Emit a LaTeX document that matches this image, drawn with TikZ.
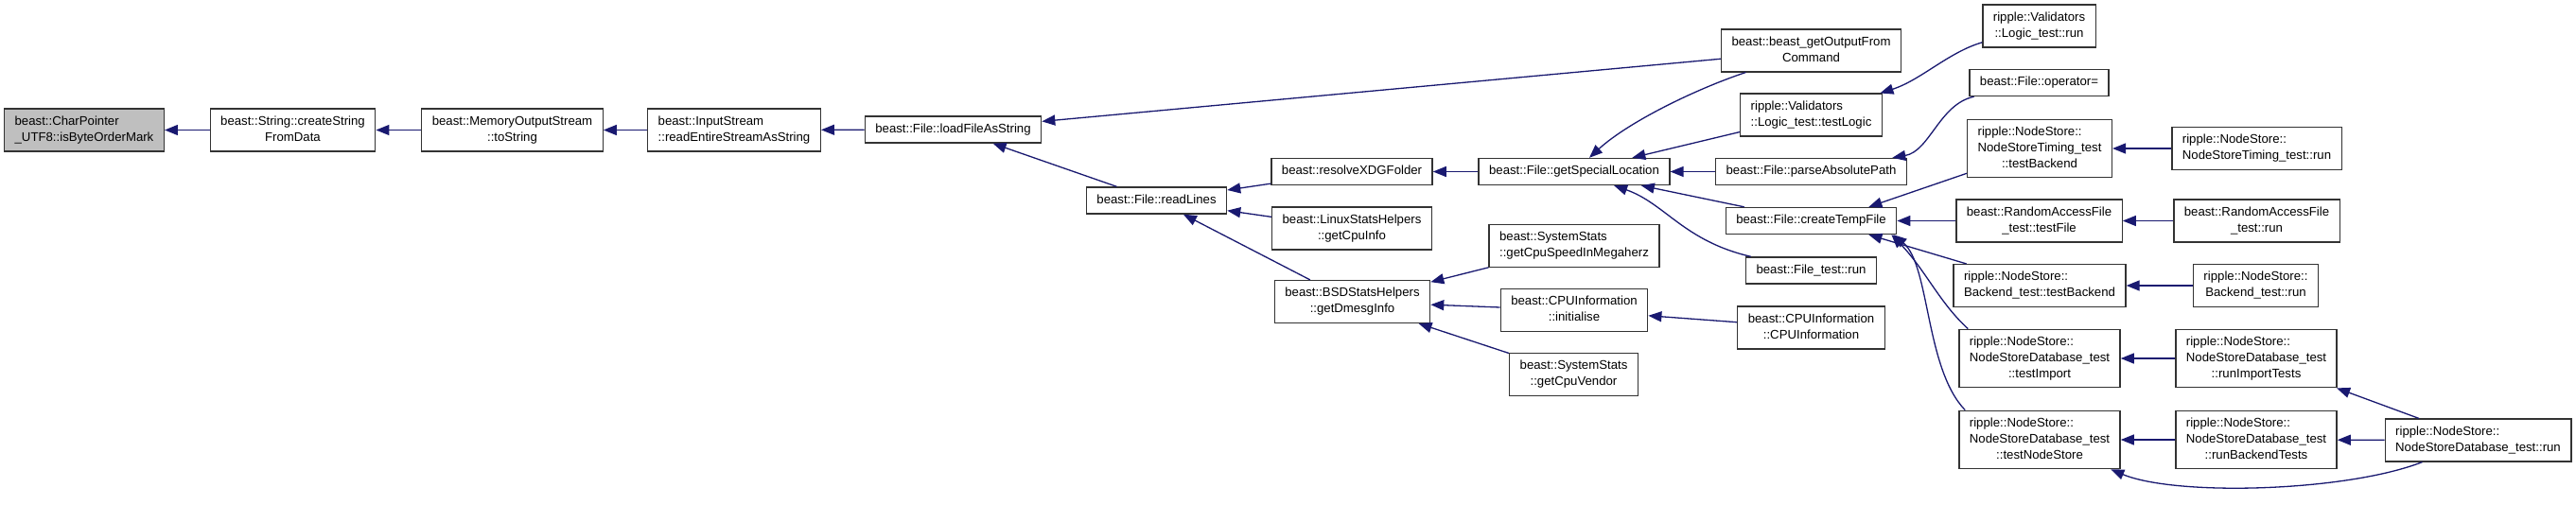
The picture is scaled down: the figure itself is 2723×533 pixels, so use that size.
\documentclass[tikz,border=0pt]{standalone}
\usepackage{fontspec}
\setmainfont{Liberation Sans}
\usetikzlibrary{arrows.meta}
\definecolor{edgec}{HTML}{191970}
\definecolor{linec}{HTML}{333333}
\definecolor{curc}{HTML}{BFBFBF}
\newcommand{\fnbox}[1]{\begin{tabular}{@{}c@{}}#1\end{tabular}}
\newcommand{\lftln}[1]{\multicolumn{1}{@{}l@{}}{#1}\\}
\tikzset{
  ar/.style={-{Triangle[length=14pt,width=11pt]},line width=1.3pt,edgec},
  fn/.style={draw=linec,line width=1.3pt,fill=white,inner xsep=11pt,inner ysep=5.7pt,font=\fontsize{13.2}{16.7}\selectfont},
  cur/.style={fn,fill=curc}
}
\begin{document}
\begin{tikzpicture}[x=1pt,y=-1pt]
\useasboundingbox (0,0) rectangle (2723,533);
\node[cur] (cp) at (89,137.5) {\fnbox{\lftln{beast::CharPointer}\_UTF8::isByteOrderMark}};
\node[fn] (cs) at (309.5,137.5) {\fnbox{\lftln{beast::String::createString}FromData}};
\node[fn] (mos) at (541.5,137.5) {\fnbox{\lftln{beast::MemoryOutputStream}::toString}};
\node[fn] (is) at (776,137.5) {\fnbox{\lftln{beast::InputStream}::readEntireStreamAsString}};
\node[fn] (lfs) at (1007.5,137) {\fnbox{beast::File::loadFileAsString}};
\node[fn] (rl) at (1222.5,212) {\fnbox{beast::File::readLines}};
\node[fn] (xdg) at (1429,181.5) {\fnbox{beast::resolveXDGFolder}};
\node[fn] (lin) at (1429,241.5) {\fnbox{\lftln{beast::LinuxStatsHelpers}::getCpuInfo}};
\node[fn] (bsd) at (1429.5,319) {\fnbox{\lftln{beast::BSDStatsHelpers}::getDmesgInfo}};
\node[fn] (gsl) at (1664,181.5) {\fnbox{beast::File::getSpecialLocation}};
\node[fn] (spd) at (1664,260) {\fnbox{\lftln{beast::SystemStats}::getCpuSpeedInMegaherz}};
\node[fn] (ini) at (1664,328) {\fnbox{\lftln{beast::CPUInformation}::initialise}};
\node[fn] (ven) at (1663.5,396) {\fnbox{\lftln{beast::SystemStats}::getCpuVendor}};
\node[fn] (cmd) at (1914.5,53.5) {\fnbox{\lftln{beast::beast\_getOutputFrom}Command}};
\node[fn] (tlg) at (1914.5,121.5) {\fnbox{\lftln{ripple::Validators}::Logic\_test::testLogic}};
\node[fn] (pap) at (1914.5,181.5) {\fnbox{beast::File::parseAbsolutePath}};
\node[fn] (ctf) at (1914.5,233.5) {\fnbox{beast::File::createTempFile}};
\node[fn] (ftr) at (1914.5,286) {\fnbox{beast::File\_test::run}};
\node[fn] (cpu) at (1914.5,346.5) {\fnbox{\lftln{beast::CPUInformation}::CPUInformation}};
\node[fn] (ltr) at (2155.5,27.5) {\fnbox{\lftln{ripple::Validators}::Logic\_test::run}};
\node[fn] (opr) at (2155.5,87.5) {\fnbox{beast::File::operator=}};
\node[fn] (nsb) at (2156,157) {\fnbox{\lftln{ripple::NodeStore::}\lftln{NodeStoreTiming\_test}::testBackend}};
\node[fn] (raf) at (2155.5,233.5) {\fnbox{\lftln{beast::RandomAccessFile}\_test::testFile}};
\node[fn] (bet) at (2156,302) {\fnbox{\lftln{ripple::NodeStore::}Backend\_test::testBackend}};
\node[fn] (tim) at (2156,379) {\fnbox{\lftln{ripple::NodeStore::}\lftln{NodeStoreDatabase\_test}::testImport}};
\node[fn] (tns) at (2156,465) {\fnbox{\lftln{ripple::NodeStore::}\lftln{NodeStoreDatabase\_test}::testNodeStore}};
\node[fn] (nsr) at (2385.5,157) {\fnbox{\lftln{ripple::NodeStore::}NodeStoreTiming\_test::run}};
\node[fn] (rafr) at (2385.5,233.5) {\fnbox{\lftln{beast::RandomAccessFile}\_test::run}};
\node[fn] (ber) at (2384.5,302) {\fnbox{\lftln{ripple::NodeStore::}Backend\_test::run}};
\node[fn] (rit) at (2385,379) {\fnbox{\lftln{ripple::NodeStore::}\lftln{NodeStoreDatabase\_test}::runImportTests}};
\node[fn] (rbt) at (2385,465) {\fnbox{\lftln{ripple::NodeStore::}\lftln{NodeStoreDatabase\_test}::runBackendTests}};
\node[fn] (nsd) at (2619.5,465.5) {\fnbox{\lftln{ripple::NodeStore::}NodeStoreDatabase\_test::run}};
\draw[ar] (cs) -- (cp);
\draw[ar] (mos) -- (cs);
\draw[ar] (is) -- (mos);
\draw[ar] (lfs) -- (is);
\draw[ar] (cmd) -- (lfs);
\draw[ar] (rl) -- (lfs);
\draw[ar] (xdg) -- (rl);
\draw[ar] (lin) -- (rl);
\draw[ar] (bsd) -- (rl);
\draw[ar] (gsl) -- (xdg);
\draw[ar] (spd) -- (bsd);
\draw[ar] (ini) -- (bsd);
\draw[ar] (ven) -- (bsd);
\draw[ar] (cmd) .. controls (1790,95) and (1720,130) .. (gsl);
\draw[ar] (tlg) -- (gsl);
\draw[ar] (pap) -- (gsl);
\draw[ar] (ctf) -- (gsl);
\draw[ar] (ftr) .. controls (1780,255) and (1760,215) .. (gsl);
\draw[ar] (cpu) -- (ini);
\draw[ar] (ltr) .. controls (2060,55) and (2030,85) .. (tlg);
\draw[ar] (opr) .. controls (2050,110) and (2040,160) .. (pap);
\draw[ar] (nsb) -- ([xshift=-30pt]ctf.north east);
\draw[ar] (raf) -- (ctf);
\draw[ar] (bet) -- ([xshift=-30pt]ctf.south east);
\draw[ar] ([xshift=10pt]tim.north west) .. controls (2050,320) and (2035,285) .. ([xshift=-6pt]ctf.south east);
\draw[ar] ([xshift=7pt]tns.north west) .. controls (2035,390) and (2040,280) .. ([xshift=-4pt]ctf.south east);
\draw[ar] (nsr) -- (nsb);
\draw[ar] (rafr) -- (raf);
\draw[ar] (ber) -- (bet);
\draw[ar] (rit) -- (tim);
\draw[ar] (rbt) -- (tns);
\draw[ar] (nsd) -- (rit);
\draw[ar] (nsd) -- (rbt);
\draw[ar] (nsd) .. controls (2480,520) and (2300,525) .. (tns);
\end{tikzpicture}
\end{document}
